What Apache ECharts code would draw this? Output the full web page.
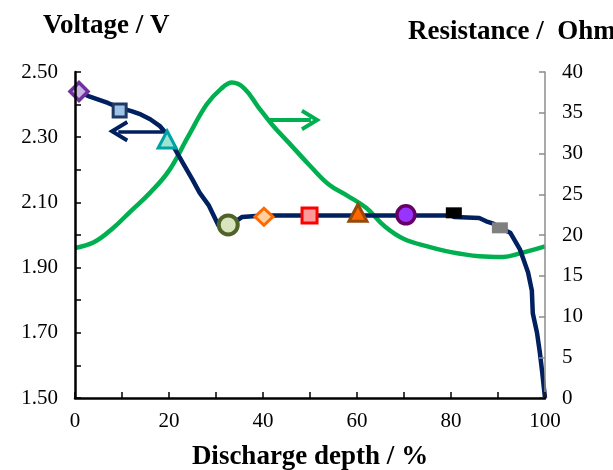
<!DOCTYPE html>
<html>
<head>
<meta charset="utf-8">
<script src="https://cdn.jsdelivr.net/npm/echarts@6/dist/echarts.min.js"></script>
<style>
  html, body { margin: 0; padding: 0; background: #fff; }
  #chart { width: 613px; height: 470px; }
</style>
</head>
<body>
<div id="chart"></div>
<script>
// discharge curve (voltage vs depth)
const voltageDepth = [0.85, 3, 5, 7, 9.5, 12, 14, 16, 18, 19.5, 21, 23, 25, 26.5, 27.5, 28.5, 29.5, 30.5, 31.5, 33, 34.5, 35.5, 40, 50, 60, 70, 80, 80.8, 86, 87.5, 89, 90.4, 92.6, 94.7, 95.3, 96.4, 97.2, 97.4, 98.3, 98.9, 99.4, 100]
const voltage = [2.44, 2.425, 2.415, 2.405, 2.39, 2.38, 2.37, 2.355, 2.335, 2.31, 2.27, 2.22, 2.17, 2.13, 2.11, 2.09, 2.06, 2.03, 2.02, 2.025, 2.045, 2.055, 2.06, 2.06, 2.06, 2.06, 2.06, 2.055, 2.052, 2.042, 2.035, 2.022, 2.007, 1.955, 1.93, 1.885, 1.83, 1.76, 1.70, 1.64, 1.58, 1.50]

// resistance vs depth
const resDepth = [0, 4, 8, 12, 16, 20, 24, 28, 31, 33.4, 36, 39, 42, 46, 50, 54, 58, 62, 66, 70, 75, 80, 86, 91, 95, 100]
const resistance = [18.4, 19.1, 20.8, 23.0, 25.2, 27.9, 32.0, 36.0, 37.9, 38.7, 38.0, 35.7, 33.5, 31.0, 28.5, 26.2, 24.8, 23.3, 21.0, 19.5, 18.6, 17.9, 17.4, 17.3, 17.8, 18.6]

// marked sampling points on the discharge curve
const markerDepth = [0.85, 9.5, 19.6, 32.6, 40.2, 49.9, 60.2, 70.4, 80.6, 90.4]
const markerVoltage = [2.44, 2.382, 2.293, 2.031, 2.056, 2.06, 2.068, 2.062, 2.068, 2.022]

const markerSymbol = ['diamond', 'rect', 'triangle', 'circle', 'diamond', 'rect', 'triangle', 'circle', 'rect', 'rect']
const markerSize = [[18, 18], [13, 13], [18, 17], [19, 19], [18, 17], [15, 15], [18, 17], [18, 18], [16, 11], [16, 11]]
const markerFill = ['#c9b5e3', '#9dc3e6', '#9fe3d3', '#d7e4bd', '#ffcf9f', '#ff9a9a', '#ff6600', '#9933ff', '#000000', '#808080']
const markerBorder = ['#7030a0', '#1f3864', '#00a3a3', '#4f6228', '#ff6a00', '#ff0000', '#984807', '#660066', '#000000', '#808080']
const markerBorderWidth = [3.5, 3, 3, 4, 3, 3, 3, 3.5, 0, 0]

const xTicks = { min: 0, max: 100, interval: 20 }
const vTicks = { min: 1.5, max: 2.5, interval: 0.2 }
const rTicks = { min: 0, max: 40, interval: 5 }

const NAVY = '#002060'
const GREEN = '#00b050'
const FONT = '"Times New Roman", "Liberation Serif", serif'
const chevron = 'path://M0,17 L10,0 L20,17 L16.8,18.8 L10,7.2 L3.2,18.8 Z'

const chart = echarts.init(document.getElementById('chart'), null, { renderer: 'canvas' })

chart.setOption({
  animation: false,
  backgroundColor: '#fff',
  textStyle: { fontFamily: FONT },
  title: [
    {
      text: 'Voltage / V',
      left: 38,
      top: 8,
      textStyle: { fontFamily: FONT, fontSize: 27, fontWeight: 'bold', color: '#000' }
    },
    {
      text: 'Resistance /  Ohm',
      left: 403,
      top: 14,
      textStyle: { fontFamily: FONT, fontSize: 27, fontWeight: 'bold', color: '#000' }
    }
  ],
  grid: { left: 75, right: 68, top: 72, bottom: 72, containLabel: false, outerBoundsMode: 'none' },
  xAxis: {
    type: 'value',
    min: xTicks.min,
    max: xTicks.max,
    interval: xTicks.interval,
    z: 10,
    name: 'Discharge depth / %',
    nameLocation: 'middle',
    nameGap: 46,
    nameTextStyle: { fontFamily: FONT, fontSize: 27, fontWeight: 'bold', color: '#000' },
    axisLine: { onZero: false, lineStyle: { color: '#000', width: 2.5 } },
    axisTick: { inside: true, length: 6, lineStyle: { color: '#000', width: 1.5 } },
    minorTick: { show: true, splitNumber: 2, length: 6, lineStyle: { color: '#000', width: 1.5 } },
    axisLabel: { fontFamily: FONT, fontSize: 21, color: '#000', margin: 13 },
    splitLine: { show: false }
  },
  yAxis: [
    {
      type: 'value',
      position: 'left',
      min: vTicks.min,
      max: vTicks.max,
      interval: vTicks.interval,
      z: 10,
      axisLine: { show: true, onZero: false, lineStyle: { color: '#000', width: 2.5 } },
      axisTick: { show: true, inside: true, length: 6, lineStyle: { color: '#000', width: 1.5 } },
      minorTick: { show: true, splitNumber: 2, length: 6, lineStyle: { color: '#000', width: 1.5 } },
      axisLabel: {
        fontFamily: FONT, fontSize: 21, color: '#000', margin: 17,
        formatter: v => v.toFixed(2)
      },
      splitLine: { show: false }
    },
    {
      type: 'value',
      position: 'right',
      min: rTicks.min,
      max: rTicks.max,
      interval: rTicks.interval,
      z: 9,
      axisLine: { show: true, onZero: false, lineStyle: { color: '#8c8c8c', width: 1.5 } },
      axisTick: { show: true, inside: true, length: 6, lineStyle: { color: '#8c8c8c', width: 1.5 } },
      axisLabel: { fontFamily: FONT, fontSize: 21, color: '#000', margin: 17 },
      splitLine: { show: false }
    }
  ],
  series: [
    {
      name: 'Resistance',
      type: 'line',
      yAxisIndex: 1,
      smooth: 0.4,
      symbol: 'none',
      lineStyle: { color: GREEN, width: 4.5 },
      data: resDepth.map((d, i) => [d, resistance[i]]),
      z: 2,
      markLine: {
        silent: true,
        symbol: ['none', chevron],
        symbolSize: [22, 20],
        label: { show: false },
        lineStyle: { color: GREEN, width: 4, type: 'solid' },
        data: [[{ coord: [41.1, 34.1] }, { coord: [50.2, 34.1] }]]
      }
    },
    {
      name: 'Voltage',
      type: 'line',
      yAxisIndex: 0,
      symbol: 'none',
      lineStyle: { color: NAVY, width: 4.5, join: 'round' },
      data: voltageDepth.map((d, i) => [d, voltage[i]]),
      z: 3,
      markLine: {
        silent: true,
        symbol: ['none', chevron],
        symbolSize: [22, 20],
        label: { show: false },
        lineStyle: { color: NAVY, width: 3.5, type: 'solid' },
        data: [[{ coord: [18.7, 2.318] }, { coord: [9.2, 2.318] }]]
      }
    },
    {
      name: 'Markers',
      type: 'scatter',
      yAxisIndex: 0,
      z: 4,
      data: markerDepth.map((d, i) => ({
        value: [d, markerVoltage[i]],
        symbol: markerSymbol[i],
        symbolSize: markerSize[i],
        itemStyle: {
          color: markerFill[i],
          borderColor: markerBorder[i],
          borderWidth: markerBorderWidth[i],
          opacity: 1
        }
      }))
    }
  ]
})
</script>
</body>
</html>
